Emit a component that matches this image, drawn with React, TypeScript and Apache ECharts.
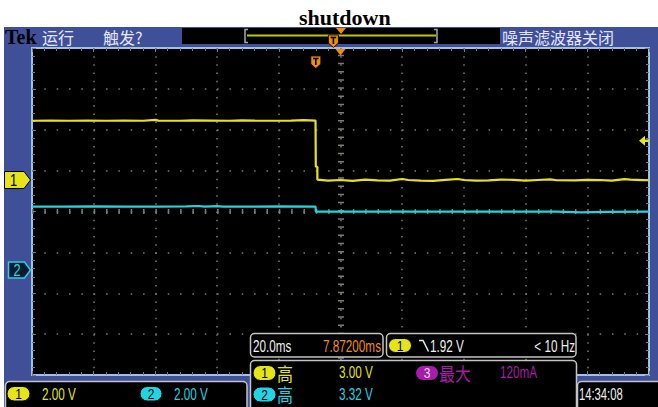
import React, { useEffect, useRef } from "react";
import * as echarts from "echarts";

// ---------------- data ----------------
const titleText = "shutdown";
const timeMinMs = 0;
const timeMaxMs = 200;
const msPerDiv = 20;
const voltsPerDiv = 2;
const divRange = 4; // ±4 vertical divisions
const ch1GroundDiv = 0.77; // ground marker above centre (div)
const ch2GroundDiv = -1.43; // ground marker below centre (div)
const triggerLevelV = 1.92;
const triggerTimeMs = 92.0;
const expansionTimeMs = 100;

const ch1Time = [0, 6, 12, 18, 24, 30, 36, 40, 41, 48, 52, 58, 64, 68, 72, 78, 84, 88, 90, 91.9, 92.0, 92.5, 92.5, 96, 100, 104, 108, 112, 116, 120, 122, 126, 130, 134, 138, 140, 144, 148, 152, 156, 160, 164, 168, 170, 176, 180, 184, 188, 192, 194, 198, 200];
const ch1Volts = [2.9, 2.91, 2.9, 2.91, 2.9, 2.91, 2.9, 2.94, 2.91, 2.9, 2.92, 2.91, 2.9, 2.92, 2.91, 2.9, 2.91, 2.93, 2.92, 2.91, 0.65, 0.65, 0.02, -0.03, 0.0, -0.04, 0.02, -0.02, -0.03, 0.05, 0.0, -0.03, -0.04, 0.01, 0.05, 0.0, -0.03, -0.02, 0.02, 0.01, -0.03, 0.0, 0.03, -0.01, -0.02, 0.01, 0.0, -0.03, 0.04, 0.02, 0.0, -0.01];

const ch2Time = [0, 10, 20, 30, 40, 50, 54, 56, 60, 62, 70, 80, 91.9, 92.0, 110, 130, 150, 170, 178, 186, 200];
const ch2Volts = [3.1, 3.1, 3.11, 3.1, 3.1, 3.11, 3.13, 3.1, 3.12, 3.1, 3.1, 3.11, 3.1, 2.85, 2.85, 2.86, 2.85, 2.85, 2.82, 2.84, 2.85];

const topStatus = ["运行", "触发?", "噪声滤波器关闭"];
const scaleReadouts = ["2.00 V", "2.00 V"];
const timebaseReadout = "20.0ms";
const positionReadout = "7.87200ms";
const triggerReadout = "1.92 V";
const freqReadout = "< 10 Hz";
const measLabels = ["高", "高", "最大"];
const measValues = ["3.00 V", "3.32 V", "120mA"];
const clockText = "14:34:08";

// ---------------- styles ----------------
const YEL = "#e4e418";
const CYA = "#22d4e2";
const ORG = "#f08c14";
const MAG = "#a41ea8";
const BLUE = "#3f4f98";
const GRIDC = "#7c7c74";
const BOXC = "#c4c4c4";
const SF = '"Liberation Sans", "Roboto", sans-serif';
const CJK = '"Noto Sans CJK SC", sans-serif';
const SERIF = '"Liberation Serif", "DejaVu Serif", serif';
const NX = 0.69; // horizontal squeeze imitating the scope's narrow font

const G = { left: 32, top: 48, width: 617, height: 327 };
const subX = G.width / 50;
const subY = G.height / 40;

const edgeAxis = (extra: any) => ({
  type: "value",
  axisLine: { show: false, onZero: false },
  axisLabel: { show: false },
  axisTick: { show: true, inside: true, length: 4, lineStyle: { color: GRIDC, width: 1 } },
  minorTick: { show: true, splitNumber: 5, length: 3, lineStyle: { color: GRIDC, width: 1 } },
  splitLine: { show: false },
  ...extra,
});

export default function App() {
  const ref = useRef<HTMLDivElement>(null);
  useEffect(() => {
    const chart = echarts.init(ref.current!, null, { renderer: "svg" });
    const ch1Min = -(divRange + ch1GroundDiv) * voltsPerDiv;
    const ch1Max = (divRange - ch1GroundDiv) * voltsPerDiv;
    const ch2Min = -(divRange + ch2GroundDiv) * voltsPerDiv;
    const ch2Max = (divRange - ch2GroundDiv) * voltsPerDiv;

    chart.setOption({
      animation: false,
      backgroundColor: "#ffffff",
      title: {
        text: titleText,
        left: 294,
        top: 1,
        textStyle: { fontFamily: SERIF, fontWeight: "bold", fontSize: 22, color: "#000" },
      },
      grid: { ...G, show: true, backgroundColor: "#000", borderColor: "#9cc2ea", borderWidth: 2 },
      xAxis: [
        edgeAxis({
          min: timeMinMs, max: timeMaxMs, interval: msPerDiv, position: "bottom",
          splitLine: { show: true, showMinLine: false, showMaxLine: false, lineStyle: { color: GRIDC, width: 1.5, type: [1.5, subY - 1.5] } },
        }),
        edgeAxis({ min: timeMinMs, max: timeMaxMs, interval: msPerDiv, position: "top" }),
      ],
      yAxis: [
        edgeAxis({
          min: -divRange, max: divRange, interval: 1, position: "left",
          splitLine: { show: true, showMinLine: false, showMaxLine: false, lineStyle: { color: GRIDC, width: 1.5, type: [1.5, subX - 1.5] } },
        }),
        edgeAxis({ min: -divRange, max: divRange, interval: 1, position: "right" }),
        { type: "value", show: false, min: ch1Min, max: ch1Max },
        { type: "value", show: false, min: ch2Min, max: ch2Max },
      ],
      series: [
        {
          type: "line", xAxisIndex: 0, yAxisIndex: 0, data: [[0, 0]], showSymbol: false,
          lineStyle: { opacity: 0 }, silent: true,
          markLine: {
            silent: true, symbol: "none", label: { show: false }, animation: false,
            data: [
              { yAxis: 0, lineStyle: { color: GRIDC, width: 5, type: [1.5, subX - 1.5] } },
              { xAxis: expansionTimeMs, lineStyle: { color: GRIDC, width: 6, type: [1.5, subY - 1.5] } },
            ],
          },
        },
        {
          name: "CH2", type: "line", xAxisIndex: 0, yAxisIndex: 3, showSymbol: false, z: 5,
          data: ch2Time.map((t, i) => [t, ch2Volts[i]]),
          lineStyle: { color: CYA, width: 2.2 },
        },
        {
          name: "CH1", type: "line", xAxisIndex: 0, yAxisIndex: 2, showSymbol: false, z: 6,
          data: ch1Time.map((t, i) => [t, ch1Volts[i]]),
          lineStyle: { color: YEL, width: 2.2 },
        },
      ],
    });

    const px = (finder: any, v: number) => chart.convertToPixel(finder, v) as unknown as number;
    const g1 = px({ yAxisIndex: 2 }, 0);
    const g2 = px({ yAxisIndex: 3 }, 0);
    const yTrig = px({ yAxisIndex: 2 }, triggerLevelV);
    const xTrig = px({ xAxisIndex: 0 }, triggerTimeMs);
    const xExp = px({ xAxisIndex: 0 }, expansionTimeMs);
    const recL = 246, recW = 190;
    const recX = (t: number) => recL + ((t - timeMinMs) / (timeMaxMs - timeMinMs)) * recW;

    const Z = 60;
    const txt = (x: number, y: number, text: string, fill: string, size: number, family = SF, align = "left", weight = "normal", sx = 1, sy = 1) => ({
      type: "text", x, y, z: Z + 2, silent: true, scaleX: sx, scaleY: sy,
      style: { text, fill, fontSize: size, fontFamily: family, fontWeight: weight, align, verticalAlign: "middle", textAlign: align, textVerticalAlign: "middle" },
    });
    const ntxt = (x: number, y: number, text: string, fill: string, align = "left", sx = NX) => txt(x, y, text, fill, 17, SF, align, "normal", sx, 1);
    const box = (x: number, y: number, w: number, h: number) => ({
      type: "rect", z: Z, silent: true, shape: { x, y, width: w, height: h, r: 4 },
      style: { fill: "#000", stroke: BOXC, lineWidth: 1.5 },
    });
    const pill = (x: number, y: number, w: number, h: number, fill: string, label: string, labelColor = "#000") => [
      { type: "rect", z: Z + 1, silent: true, shape: { x, y, width: w, height: h, r: h / 2 }, style: { fill, stroke: "#000", lineWidth: 1 } },
      txt(x + w / 2, y + h / 2 + 0.5, label, labelColor, 15, SF, "center", "normal", 0.8, 1),
    ];
    const tMarker = (cx: number, top: number) => [
      { type: "polygon", z: Z + 1, silent: true, shape: { points: [[cx - 5, top], [cx + 5, top], [cx + 5, top + 8], [cx, top + 12.5], [cx - 5, top + 8]] }, style: { fill: ORG, stroke: "#000", lineWidth: 0.8 } },
      { type: "polyline", z: Z + 2, silent: true, shape: { points: [[cx - 2.8, top + 2.5], [cx + 2.8, top + 2.5]] }, style: { stroke: "#000", lineWidth: 1.6, fill: null } },
      { type: "polyline", z: Z + 2, silent: true, shape: { points: [[cx, top + 2.5], [cx, top + 9]] }, style: { stroke: "#000", lineWidth: 1.6, fill: null } },
    ];

    const elements: any[] = [
      // blue bezel behind the graticule
      { type: "rect", z: -10, silent: true, shape: { x: 4, y: 27, width: 660, height: 390 }, style: { fill: BLUE } },
      // top status bar
      txt(5, 37, "Tek", "#000", 20, SERIF, "left", "bold"),
      txt(42, 37, topStatus[0], "#e2e6ff", 16, CJK),
      txt(103, 37, topStatus[1], "#e2e6ff", 16, CJK),
      txt(502, 37, topStatus[2], "#e2e6ff", 16, CJK),
      { type: "rect", z: Z, silent: true, shape: { x: 182, y: 28, width: 318, height: 16 }, style: { fill: "#000" } },
      { type: "polyline", z: Z + 1, silent: true, shape: { points: [[recL + 2, 29.5], [recL - 1, 29.5], [recL - 1, 42.5], [recL + 2, 42.5]] }, style: { stroke: "#a8a8a8", lineWidth: 1.5, fill: null } },
      { type: "polyline", z: Z + 1, silent: true, shape: { points: [[recL + recW - 2, 29.5], [recL + recW + 1, 29.5], [recL + recW + 1, 42.5], [recL + recW - 2, 42.5]] }, style: { stroke: "#a8a8a8", lineWidth: 1.5, fill: null } },
      { type: "line", z: Z + 1, silent: true, shape: { x1: recL + 1, y1: 35.5, x2: recL + recW, y2: 35.5 }, style: { stroke: "#c4c400", lineWidth: 2 } },
      { type: "polygon", z: Z + 2, silent: true, shape: { points: [[recX(expansionTimeMs) - 5, 28], [recX(expansionTimeMs) + 5, 28], [recX(expansionTimeMs), 34]] }, style: { fill: ORG } },
      ...tMarker(recX(triggerTimeMs), 35),
      // graticule markers
      { type: "polygon", z: Z + 2, silent: true, shape: { points: [[xExp - 5, 49], [xExp + 5, 49], [xExp, 55.5]] }, style: { fill: ORG } },
      ...tMarker(xTrig, 56),
      // channel ground markers
      { type: "polygon", z: Z + 1, silent: true, shape: { points: [[4.5, g1 - 8.5], [24, g1 - 8.5], [30.5, g1], [24, g1 + 8.5], [4.5, g1 + 8.5]] }, style: { fill: YEL, stroke: "#000", lineWidth: 1 } },
      txt(13.5, g1 + 0.5, "1", "#000", 16, SF, "center", "normal", 0.8, 1),
      { type: "polygon", z: Z + 1, silent: true, shape: { points: [[8.5, g2 - 8], [24.5, g2 - 8], [30.5, g2], [24.5, g2 + 8], [8.5, g2 + 8]] }, style: { fill: "#0b1a30", stroke: CYA, lineWidth: 1.5 } },
      txt(17, g2 + 0.5, "2", CYA, 16, SF, "center", "normal", 0.8, 1),
      // trigger level arrow
      { type: "polygon", z: Z + 1, silent: true, shape: { points: [[639, yTrig], [645, yTrig - 5], [645, yTrig - 1.3], [649, yTrig - 1.3], [649, yTrig + 1.3], [645, yTrig + 1.3], [645, yTrig + 5]] }, style: { fill: YEL } },
      // bottom-left scale box
      box(5.5, 381.5, 241.5, 32),
      ...pill(7, 386.5, 23, 14.5, YEL, "1"),
      ntxt(42, 394, scaleReadouts[0], YEL),
      ...pill(140, 386.5, 22, 14.5, CYA, "2"),
      ntxt(174, 394, scaleReadouts[1], CYA),
      // timebase box
      box(250.5, 333.5, 132.5, 23.5),
      ntxt(253, 346, timebaseReadout, "#f0f0f0"),
      ntxt(381, 346, positionReadout, ORG, "right"),
      // trigger box
      box(386.5, 333.5, 189.5, 23.5),
      ...pill(388.5, 338.5, 23, 14, YEL, "1"),
      { type: "polyline", z: Z + 2, silent: true, shape: { points: [[419, 340.5], [423, 340.5], [428.5, 351.5]] }, style: { stroke: "#e8e8e8", lineWidth: 1.5, fill: null } },
      ntxt(430, 346, triggerReadout, "#f0f0f0"),
      ntxt(575, 346, freqReadout, "#f0f0f0", "right"),
      // measurement box
      box(250.5, 360.5, 326, 52),
      ...pill(253, 365.5, 23, 15, YEL, "1"),
      txt(277, 372.5, measLabels[0], YEL, 16, CJK, "left", "normal", 1, 1.15),
      ntxt(339, 372.5, measValues[0], YEL),
      ...pill(253, 387, 23, 15, CYA, "2"),
      txt(277, 394, measLabels[1], CYA, 16, CJK, "left", "normal", 1, 1.15),
      ntxt(339, 394, measValues[1], CYA),
      ...pill(415.5, 365.5, 23, 15, MAG, "3", "#f4d8f4"),
      txt(439, 372.5, measLabels[2], MAG, 16, CJK, "left", "normal", 1, 1.15),
      ntxt(500, 372.5, measValues[2], MAG),
      // clock box
      box(577.5, 381.5, 90, 32),
      ntxt(579, 394.5, clockText, "#f0f0f0", "left", 0.66),
    ];
    chart.setOption({ graphic: { elements } });
    return () => chart.dispose();
  }, []);
  return <div ref={ref} style={{ position: "absolute", left: 0, top: 0, width: 658, height: 407, background: "#fff" }} />;
}
